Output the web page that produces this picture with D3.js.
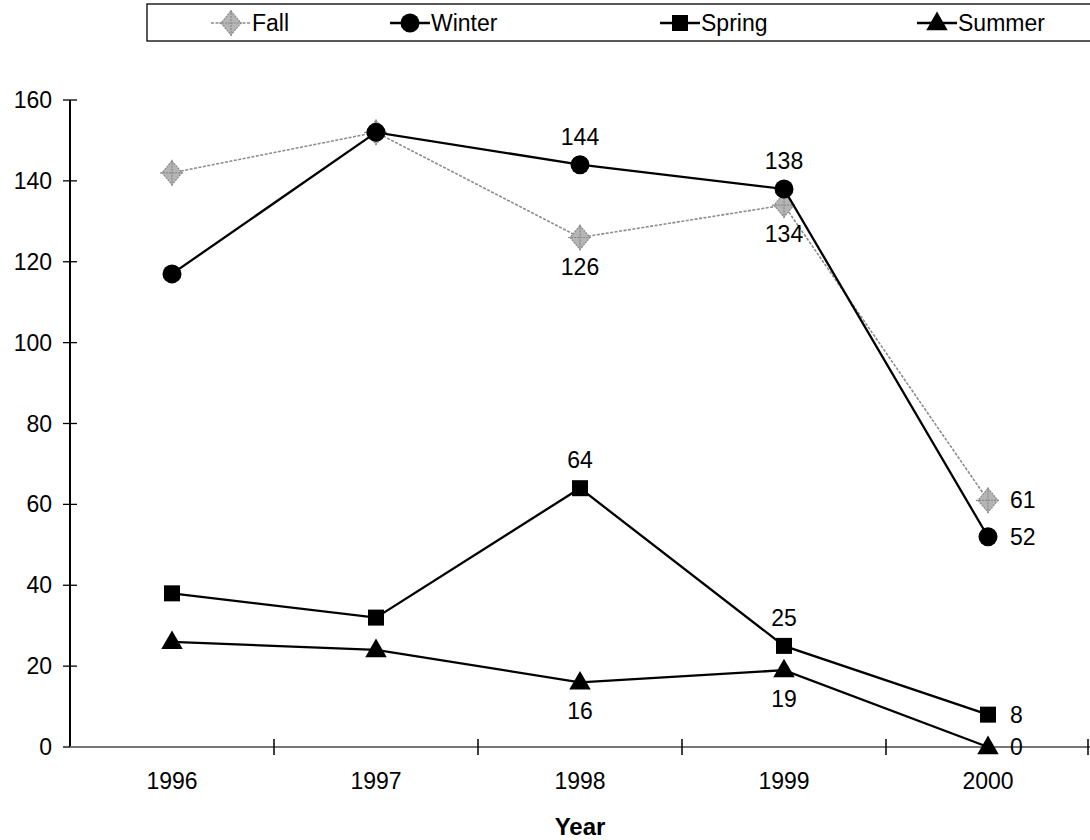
<!DOCTYPE html>
<html><head><meta charset="utf-8">
<script src="https://cdn.jsdelivr.net/npm/d3@7"></script>
<style>body{margin:0;background:#fff}svg{display:block;font-family:"Liberation Sans",Arial,sans-serif}</style>
</head><body><svg id="c" width="1090" height="840"></svg>
<script>
const years = ["1996","1997","1998","1999","2000"];
const fall   = [142,152,126,134,61];
const winter = [117,152,144,138,52];
const spring = [38,32,64,25,8];
const summer = [26,24,16,19,0];
const yTicks = [0,20,40,60,80,100,120,140,160];
// labels: [yearIndex, position]
const fallLabels   = [[2,"below"],[3,"below"],[4,"right"]];
const winterLabels = [[2,"above"],[3,"above"],[4,"right"]];
const springLabels = [[2,"above"],[3,"above"],[4,"right"]];
const summerLabels = [[2,"below"],[3,"below"],[4,"right"]];

const svg = d3.select("#c");
const x = d3.scaleBand().domain(years).range([70,1090]);
const y = d3.scaleLinear().domain([0,160]).range([747,100]);
const cx = d => x(d) + x.bandwidth()/2;
const FS = 23;

// y axis
const ya = svg.append("g").attr("transform","translate(70,0)");
ya.append("line").attr("x1",0).attr("x2",0).attr("y1",y(160)).attr("y2",y(0)).attr("stroke","#000").attr("stroke-width",2);
yTicks.forEach(t=>{
  ya.append("line").attr("x1",-7).attr("x2",7).attr("y1",y(t)).attr("y2",y(t)).attr("stroke","#000").attr("stroke-width",1.3);
  ya.append("text").attr("x",-18).attr("y",y(t)).attr("dy","0.35em").attr("text-anchor","end").attr("font-size",FS).text(t);
});
// x axis
const xa = svg.append("g");
xa.append("line").attr("x1",70).attr("x2",1090).attr("y1",y(0)).attr("y2",y(0)).attr("stroke","#777").attr("stroke-width",2);
const bounds = years.map(d=>x(d)).concat([x.range()[1]-2]);
bounds.slice(1).forEach(b=>{
  xa.append("line").attr("x1",b).attr("x2",b).attr("y1",y(0)-8).attr("y2",y(0)+8).attr("stroke","#000").attr("stroke-width",1.5);
});
years.forEach(d=>{
  xa.append("text").attr("x",cx(d)).attr("y",789).attr("text-anchor","middle").attr("font-size",FS).text(d);
});
svg.append("text").attr("x",cx("1998")).attr("y",835).attr("text-anchor","middle").attr("font-size",24).attr("font-weight","bold").text("Year");

const line = d3.line().x((v,i)=>cx(years[i])).y(v=>y(v));

function marker(g, type, px, py, color){
  if(type==="circle") g.append("circle").attr("cx",px).attr("cy",py).attr("r",9.5).attr("fill",color);
  else if(type==="square") g.append("rect").attr("x",px-8).attr("y",py-8).attr("width",16).attr("height",16).attr("fill",color);
  else if(type==="triangle") g.append("path").attr("d",d3.symbol().type(d3.symbolTriangle).size(200)()).attr("transform",`translate(${px},${py+1})`).attr("fill",color);
  else if(type==="star"){
    g.append("path").attr("d",`M${px},${py-12}L${px+10},${py}L${px},${py+12}L${px-10},${py}Z`).attr("fill","#b5b5b5").attr("stroke","#8a8a8a").attr("stroke-width",1.2).attr("stroke-dasharray","2,1");
    g.append("path").attr("d",`M${px-12},${py}H${px+12}M${px},${py-13}V${py+13}`).attr("stroke","#8a8a8a").attr("stroke-width",1.2).attr("stroke-dasharray","2,1");
  }
}

const series = [
  {name:"Fall", vals:fall, labels:fallLabels, type:"star", color:"#8c8c8c", width:1.6, dash:"3,1.5"},
  {name:"Winter", vals:winter, labels:winterLabels, type:"circle", color:"#000", width:2.3, dash:null},
  {name:"Spring", vals:spring, labels:springLabels, type:"square", color:"#000", width:2.3, dash:null},
  {name:"Summer", vals:summer, labels:summerLabels, type:"triangle", color:"#000", width:2.3, dash:null}
];

series.forEach(s=>{
  const g = svg.append("g");
  g.append("path").datum(s.vals).attr("d",line).attr("fill","none").attr("stroke",s.color).attr("stroke-width",s.width).attr("stroke-dasharray",s.dash);
  s.vals.forEach((v,i)=>marker(g,s.type,cx(years[i]),y(v),s.color));
  s.labels.forEach(([i,pos])=>{
    const v=s.vals[i], px=cx(years[i]), py=y(v);
    const t=g.append("text").attr("font-size",FS).attr("fill","#000").text(v);
    if(pos==="above") t.attr("x",px).attr("y",py-28).attr("dy","0.35em").attr("text-anchor","middle");
    else if(pos==="below") t.attr("x",px).attr("y",py+29).attr("dy","0.35em").attr("text-anchor","middle");
    else t.attr("x",px+22).attr("y",py).attr("dy","0.35em").attr("text-anchor","start");
  });
});

// legend
const lg = svg.append("g");
lg.append("rect").attr("x",147).attr("y",4).attr("width",960).attr("height",37).attr("fill","none").attr("stroke","#000").attr("stroke-width",1.3);
const legX = [231,410,680,937];
series.forEach((s,i)=>{
  const lx=legX[i], ly=23;
  lg.append("line").attr("x1",lx-20).attr("x2",lx+20).attr("y1",ly).attr("y2",ly).attr("stroke",s.color).attr("stroke-width",s.width).attr("stroke-dasharray",s.dash);
  marker(lg,s.type,lx,ly,s.color);
  lg.append("text").attr("x",lx+21).attr("y",ly).attr("dy","0.36em").attr("font-size",FS).text(s.name);
});
</script></body></html>
